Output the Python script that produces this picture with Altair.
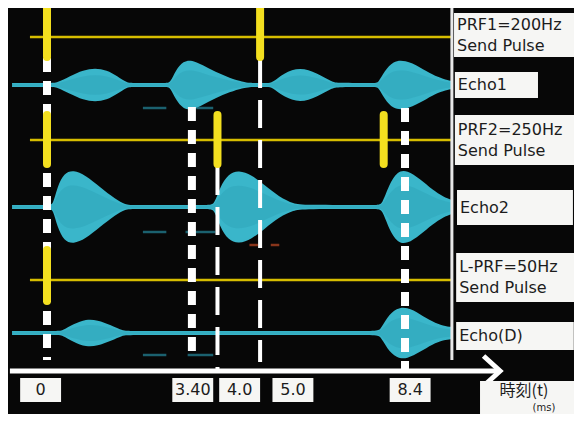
import altair as alt
import pandas as pd

# ---------------- data ----------------
tick_times = [0.0, 3.40, 4.0, 5.0, 8.4]          # marked instants (ms)
tick_labels = ["0", "3.40", "4.0", "5.0", "8.4"]

prf1_pulses = [0.0, 5.0]        # PRF1 = 200 Hz send pulses (ms)
prf2_pulses = [0.0, 4.0, 7.9]   # PRF2 = 250 Hz send pulses (ms)
lprf_pulses = [0.0]             # L-PRF = 50 Hz send pulse (ms)

# echo envelopes: time (ms) and half amplitude
echo1_t = [-0.82, 0.10, 0.23, 0.54, 0.85, 1.13, 1.40, 1.65, 1.88, 2.0,
           2.80, 2.89, 3.02, 3.20, 3.40, 3.65, 3.95, 4.29, 4.60, 4.76, 4.9,
           5.18, 5.28, 5.55, 5.94, 6.33, 6.70, 6.80,
           7.70, 7.77, 7.92, 8.12, 8.40, 8.75, 9.05, 9.30, 9.50]
echo1_a = [2, 2, 2, 9, 15, 17, 15, 9, 2, 2,
           2, 2, 15, 24, 25, 20, 13, 7, 3, 2, 2,
           2, 2, 12, 18, 12, 3, 2,
           2, 2, 14, 24, 25, 18, 10, 6, 4]

echo2_t = [-0.82, 0.05, 0.14, 0.24, 0.40, 0.62, 0.90, 1.24, 1.60, 1.85, 2.0,
           3.80, 3.92, 4.06, 4.25, 4.50, 4.80, 5.10, 5.45, 5.80, 6.0,
           7.75, 7.86, 8.02, 8.22, 8.45, 8.75, 9.05, 9.30, 9.50]
echo2_a = [2, 2, 2, 20, 34, 37, 32, 20, 8, 2, 2,
           2, 2, 20, 33, 37, 32, 22, 10, 3, 2,
           2, 2, 22, 36, 37, 28, 17, 10, 7]

echod_t = [-0.82, 0.25, 0.35, 0.62, 0.92, 1.18, 1.50, 1.80, 1.90,
           7.70, 7.81, 7.98, 8.20, 8.45, 8.75, 9.05, 9.30, 9.50]
echod_a = [2, 2, 2, 9, 14, 13, 8, 2, 2,
           2, 2, 16, 25, 26, 19, 11, 7, 6]

row_labels = ["PRF1=200Hz\nSend Pulse", "Echo1", "PRF2=250Hz\nSend Pulse",
              "Echo2", "L-PRF=50Hz\nSend Pulse", "Echo(D)"]
axis_title = "時刻(t)"
axis_unit = "(ms)"

# ---------------- layout ----------------
X0, X1 = -0.915, 12.365          # time span of the canvas
Y0, Y1 = 8, 414                  # vertical units, top -> bottom
row_y = [37, 85, 140, 207, 280, 333]
trace_end = 9.5
yellow_start = -0.4
pulse_span = {"PRF1": (8, 57), "PRF2": (115, 164), "LPRF": (250, 301)}
dash_top = [58, 107, 167, 60, 108]
dash_bot = [360, 360, 370, 362, 372]
dash_thick = [True, True, False, False, True]
box_x = [(9.55, X1), (9.57, 11.52), (9.57, X1), (9.62, 12.34), (9.60, X1), (9.60, 12.36)]
box_y = [(13, 57), (72, 98), (115, 165), (190, 225), (253, 302), (322, 350)]
line_h = 21
tick_box_shift = [-0.15, 0.02, 0.52, 0.77, 0.12]
tick_box_half = 0.48
tick_box_y = (378, 402)

xs = alt.Scale(domain=[X0, X1], nice=False, zero=False)
ys = alt.Scale(domain=[Y0, Y1], reverse=True, nice=False, zero=False)


def X(f):
    return alt.X(f, type="quantitative", scale=xs, axis=None)


def Y(f):
    return alt.Y(f, type="quantitative", scale=ys, axis=None)


# yellow send-pulse baselines
ylines = pd.DataFrame({"t": [yellow_start] * 3, "t2": [trace_end] * 3,
                       "y": [row_y[0], row_y[2], row_y[4]]})
yline_layer = alt.Chart(ylines).mark_rule(color="#d6bd00", strokeWidth=2.5).encode(
    x=X("t"), x2="t2", y=Y("y"))

# echoes
rows = []
for name, base, tt, aa in [("Echo1", row_y[1], echo1_t, echo1_a),
                           ("Echo2", row_y[3], echo2_t, echo2_a),
                           ("EchoD", row_y[5], echod_t, echod_a)]:
    for t, a in zip(tt, aa):
        rows.append({"row": name, "t": t, "lo": base - a, "hi": base + a,
                     "clo": base - a * 0.6, "chi": base + a * 0.6})
echo = pd.DataFrame(rows)
echo_layer = alt.Chart(echo).mark_area(color="#3ab6ca", interpolate="basis").encode(
    x=X("t"), y=Y("lo"), y2="hi", detail="row:N")
core_layer = alt.Chart(echo).mark_area(color="#1f8ea2", opacity=0.22, interpolate="basis").encode(
    x=X("t"), y=Y("clo"), y2="chi", detail="row:N")

# faint noise traces below the echoes
noise = pd.DataFrame({
    "t": [2.25, 3.5, 2.25, 3.25, 2.25, 3.3, 4.75, 5.25],
    "t2": [2.8, 3.9, 2.8, 3.95, 2.8, 3.9, 4.95, 5.45],
    "y": [108, 108, 232, 232, 355, 355, 245, 245],
    "c": ["n", "n", "n", "n", "n", "n", "o", "o"]})
noise_layer = alt.Chart(noise).mark_rule(strokeWidth=2.5, opacity=0.6).encode(
    x=X("t"), x2="t2", y=Y("y"),
    color=alt.Color("c:N", scale=alt.Scale(domain=["n", "o"], range=["#2a9fb5", "#e0552a"]), legend=None))

# white dashed time markers
dash = pd.DataFrame({"t": tick_times, "y": dash_top, "y2": dash_bot, "thick": dash_thick})
dash_thick_layer = alt.Chart(dash[dash.thick]).mark_rule(
    color="white", strokeWidth=8, strokeDash=[14, 9]).encode(x=X("t"), y=Y("y"), y2="y2")
dash_thin_layer = alt.Chart(dash[~dash.thick]).mark_rule(
    color="white", strokeWidth=4, strokeDash=[28, 12]).encode(x=X("t"), y=Y("y"), y2="y2")

# yellow send pulses
prow = []
for key, lst in [("PRF1", prf1_pulses), ("PRF2", prf2_pulses), ("LPRF", lprf_pulses)]:
    for t in lst:
        prow.append({"t": t, "y": pulse_span[key][0], "y2": pulse_span[key][1]})
pulse_layer = alt.Chart(pd.DataFrame(prow)).mark_rule(
    color="#f3df1f", strokeWidth=8, strokeCap="round").encode(x=X("t"), y=Y("y"), y2="y2")

# separator and time axis arrow
sep_layer = alt.Chart(pd.DataFrame({"t": [9.5], "y": [Y0], "y2": [360]})).mark_rule(
    color="#e8e8e8", strokeWidth=3).encode(x=X("t"), y=Y("y"), y2="y2")
axis_layer = alt.Chart(pd.DataFrame({"t": [-0.87], "t2": [10.6], "y": [371]})).mark_rule(
    color="white", strokeWidth=5).encode(x=X("t"), x2="t2", y=Y("y"))
arrow_layer = alt.Chart(pd.DataFrame({"t": [10.63], "y": [371]})).mark_point(
    shape="M -1.1 -1 L 0 0 L -1.1 1", filled=False, stroke="white", strokeWidth=5,
    size=900, opacity=1).encode(x=X("t"), y=Y("y"))

# right-hand label boxes
lab = pd.DataFrame({
    "text": row_labels,
    "x": [b[0] for b in box_x], "x2": [b[1] for b in box_x],
    "y": [b[0] for b in box_y], "y2": [b[1] for b in box_y]})
lab["n"] = lab.text.str.count("\n")
lab["ym"] = (lab.y + lab.y2) / 2 - lab.n * line_h / 2
lab["tx"] = lab.x + 0.07
lab_box = alt.Chart(lab).mark_rect(color="#f6f6f4").encode(x=X("x"), x2="x2", y=Y("y"), y2="y2")
lab_txt = alt.Chart(lab).mark_text(align="left", baseline="middle", lineBreak="\n", lineHeight=line_h,
                                   font="DejaVu Sans", fontSize=16, color="#1c1c1c").encode(
    x=X("tx"), y=Y("ym"), text="text:N")

# bottom tick label boxes
tk = pd.DataFrame({"label": tick_labels, "t": tick_times, "shift": tick_box_shift})
tk["c"] = tk.t + tk["shift"]
tk["x"] = tk.c - tick_box_half
tk["x2"] = tk.c + tick_box_half
tk["y"] = tick_box_y[0]
tk["y2"] = tick_box_y[1]
tk["ym"] = (tk.y + tk.y2) / 2
tk_box = alt.Chart(tk).mark_rect(color="#f6f6f4").encode(x=X("x"), x2="x2", y=Y("y"), y2="y2")
tk_txt = alt.Chart(tk).mark_text(align="center", baseline="middle", font="DejaVu Sans",
                                 fontSize=16, color="#1c1c1c").encode(
    x=X("c"), y=Y("ym"), text="label:N")

# time-axis title box
tt = pd.DataFrame({"x": [10.16], "x2": [X1], "y": [381], "y2": [Y1]})
tt_box = alt.Chart(tt).mark_rect(color="#f6f6f4").encode(x=X("x"), x2="x2", y=Y("y"), y2="y2")
tt_txt = pd.DataFrame({"text": [axis_title, axis_unit], "t": [11.19, 11.66], "y": [391, 407.5]})
tt_layer1 = alt.Chart(tt_txt.iloc[[0]]).mark_text(
    font="Noto Sans CJK JP", fontSize=16, color="#1c1c1c", baseline="middle").encode(
    x=X("t"), y=Y("y"), text="text:N")
tt_layer2 = alt.Chart(tt_txt.iloc[[1]]).mark_text(
    font="DejaVu Sans", fontSize=10, color="#1c1c1c", baseline="middle").encode(
    x=X("t"), y=Y("y"), text="text:N")

chart = alt.layer(
    yline_layer, echo_layer, core_layer, noise_layer,
    dash_thick_layer, dash_thin_layer, pulse_layer,
    sep_layer, axis_layer, arrow_layer,
    lab_box, lab_txt, tk_box, tk_txt, tt_box, tt_layer1, tt_layer2,
).properties(
    width=566, height=406, padding=0,
    autosize=alt.AutoSizeParams(type="none"),
    background="#070707",
).configure_view(stroke=None)

chart.save("out.html", embed_options={"renderer": "svg", "actions": False})
